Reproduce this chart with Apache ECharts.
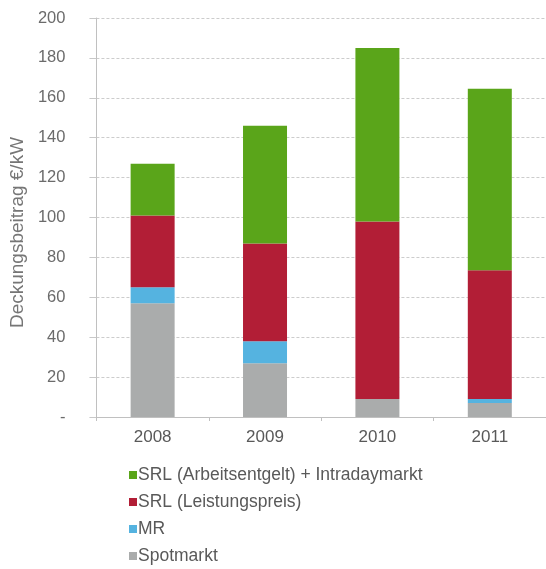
<!DOCTYPE html>
<html>
<head>
<meta charset="utf-8">
<script src="https://cdn.jsdelivr.net/npm/echarts@6/dist/echarts.min.js"></script>
<style>
  html, body { margin: 0; padding: 0; background: #fff; }
  #chart { width: 546px; height: 569px; }
</style>
</head>
<body>
<div id="chart"></div>
<script>
// Years on the category axis
const years = ['2008', '2009', '2010', '2011'];

// Contribution margin per component, €/kW (stacked bottom to top)
const spotmarkt = [57, 27, 9, 7];
const mr = [8, 11, 0, 2];
const srlLeistungspreis = [36, 49, 89, 64.5];
const srlArbeitsentgelt = [26, 59, 87, 91];

const seriesNames = [
  'Spotmarkt',
  'MR',
  'SRL (Leistungspreis)',
  'SRL (Arbeitsentgelt) + Intradaymarkt'
];
const seriesData = [spotmarkt, mr, srlLeistungspreis, srlArbeitsentgelt];
const seriesColors = ['#aaacac', '#55b3e0', '#b21e36', '#5aa51a'];

const font = 'Liberation Sans, Arial, sans-serif';

const chart = echarts.init(document.getElementById('chart'));
chart.setOption({
  animation: false,
  backgroundColor: '#ffffff',
  textStyle: { fontFamily: font },
  grid: { left: 94, top: 18, bottom: 152, width: 456, containLabel: false },
  legend: {
    orient: 'vertical',
    left: 129,
    top: 466,
    padding: 0,
    height: 103,
    itemWidth: 8,
    itemHeight: 8,
    itemGap: 9,
    icon: 'rect',
    data: seriesNames.slice().reverse(),
    textStyle: { fontSize: 17.5, color: '#595959', fontFamily: font, padding: [0, 0, 0, -4] }
  },
  xAxis: {
    type: 'category',
    data: years,
    boundaryGap: true,
    axisLine: { lineStyle: { color: '#c0c0c0', width: 1 } },
    axisTick: { show: true, length: 4, lineStyle: { color: '#c0c0c0' } },
    axisLabel: { fontSize: 17, color: '#595959', margin: 12, fontFamily: font }
  },
  yAxis: {
    type: 'value',
    min: 0,
    max: 200,
    interval: 20,
    name: 'Deckungsbeitrag €/kW',
    nameLocation: 'middle',
    nameRotate: 90,
    nameGap: 66,
    nameTextStyle: { fontSize: 19, color: '#767676', fontFamily: font, padding: [0, 30, 0, 0] },
    axisLine: { show: true, lineStyle: { color: '#c0c0c0', width: 1 } },
    axisTick: { show: true, inside: false, length: 7, lineStyle: { color: '#c8c8c8' } },
    axisLabel: {
      fontSize: 16.5,
      color: '#6b6b6b',
      margin: 31,
      fontFamily: font,
      formatter: function (v) { return v === 0 ? '-' : String(v); }
    },
    splitLine: { show: true, lineStyle: { color: '#cccccc', type: [3, 2], width: 1 } }
  },
  series: seriesNames.map(function (name, i) {
    return {
      name: name,
      type: 'bar',
      stack: 'total',
      barWidth: 44,
      data: seriesData[i],
      itemStyle: { color: seriesColors[i] }
    };
  })
});
</script>
</body>
</html>
